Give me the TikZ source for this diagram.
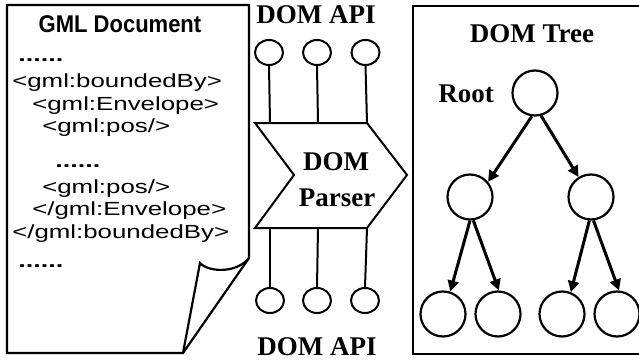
\documentclass[tikz,border=0pt]{standalone}
\usepackage{fontspec}
\setmainfont{Liberation Serif}
\newfontfamily\arialf{Liberation Sans}
\usetikzlibrary{shapes.geometric,arrows.meta}
\begin{document}
\begin{tikzpicture}[x=1pt,y=-1pt,
  serifbold/.style={font=\fontsize{27}{30}\selectfont\bfseries, inner sep=0pt},
  codeline/.style={font=\arialf\fontsize{19}{22}\selectfont, inner sep=0pt, anchor=base west, xscale=1.36, transform shape},
  dotline/.style={font=\arialf\bfseries\fontsize{19}{22}\selectfont, inner sep=0pt, anchor=base west, xscale=1.42, transform shape},
  apicirc/.style={draw, line width=2pt, ellipse, minimum width=28pt, minimum height=25pt, inner sep=0pt},
  treecirc/.style={draw, line width=2.2pt, circle, minimum size=45pt, inner sep=0pt},
  arr/.style={line width=3pt, -{Triangle[length=11pt,width=11pt]}},
  conn/.style={line width=2pt}
]
\useasboundingbox (0,0) rectangle (639,361);
\clip (0,0) rectangle (639,361);

% ---------- GML document ----------
\draw[line width=2.2pt, line join=miter] (7,5) -- (249,5) -- (249,258) -- (183,353) -- (7,353) -- cycle;
\draw[line width=2.2pt] (249,258) .. controls (236,274) and (208,272) .. (200,263) -- (183,353);
\node[font=\arialf\bfseries\fontsize{22}{24}\selectfont, inner sep=0pt, anchor=base, yscale=1.1, transform shape] (title) at (120,33) {GML Document};
\node[dotline] (l0) at (18,62) {......};
\node[codeline] (l1) at (12,87) {<gml:boundedBy>};
\node[codeline] (l2) at (32,110) {<gml:Envelope>};
\node[codeline] (l3) at (42,132) {<gml:pos/>};
\node[dotline] (l4) at (55,167) {......};
\node[codeline] (l5) at (42,193) {<gml:pos/>};
\node[codeline] (l6) at (32,215) {</gml:Envelope>};
\node[codeline] (l7) at (12,238) {</gml:boundedBy>};
\node[dotline] (l8) at (18,267) {......};

% ---------- DOM parser ----------
\draw[line width=2pt, line join=miter] (255,123) -- (367,123) -- (407,175) -- (367,228) -- (255,228) -- (294,175) -- cycle;
\node[serifbold, anchor=base] (dom) at (336,170) {DOM};
\node[serifbold, anchor=base] (parser) at (337,206) {Parser};
\coordinate (t1) at (270,123);
\coordinate (t2) at (318,123);
\coordinate (t3) at (367,123);
\coordinate (b1) at (270,228);
\coordinate (b2) at (318,228);
\coordinate (b3) at (367,228);

\node[apicirc] (a1) at (269,52.5) {};
\node[apicirc] (a2) at (317,52.5) {};
\node[apicirc] (a3) at (365.5,52.5) {};
\node[apicirc] (c1b) at (270,300.5) {};
\node[apicirc] (c2b) at (317,300.5) {};
\node[apicirc] (c3b) at (365,300.5) {};
\draw[conn] (a1.south) -- (t1);
\draw[conn] (a2.south) -- (t2);
\draw[conn] (a3.south) -- (t3);
\draw[conn] (b1) -- (c1b.north);
\draw[conn] (b2) -- (c2b.north);
\draw[conn] (b3) -- (c3b.north);
\node[serifbold, anchor=base] (apitop) at (316,24) {DOM API};
\node[serifbold, anchor=base] (apibot) at (317,355) {DOM API};

% ---------- DOM tree ----------
\draw[line width=2.2pt] (413,6) rectangle (650,354);
\node[serifbold, anchor=base] (treet) at (532,42) {DOM Tree};
\node[serifbold, anchor=base] (rootl) at (466,102) {Root};
\node[treecirc] (root) at (535,93) {};
\node[treecirc] (L) at (470,197) {};
\node[treecirc] (R) at (591,197) {};
\node[treecirc] (c1) at (443,314) {};
\node[treecirc] (c2) at (498,314) {};
\node[treecirc] (c3) at (562,314) {};
\node[treecirc] (c4) at (617,314) {};
\draw[arr] (root.-98) -- (L.40);
\draw[arr] (root.-75) -- (R.122);
\draw[arr] (L.-90) -- (c1.72);
\draw[arr] (L.-82) -- (c2.88);
\draw[arr] (R.-94) -- (c3.68);
\draw[arr] (R.-84) -- (c4.85);
\end{tikzpicture}
\end{document}
